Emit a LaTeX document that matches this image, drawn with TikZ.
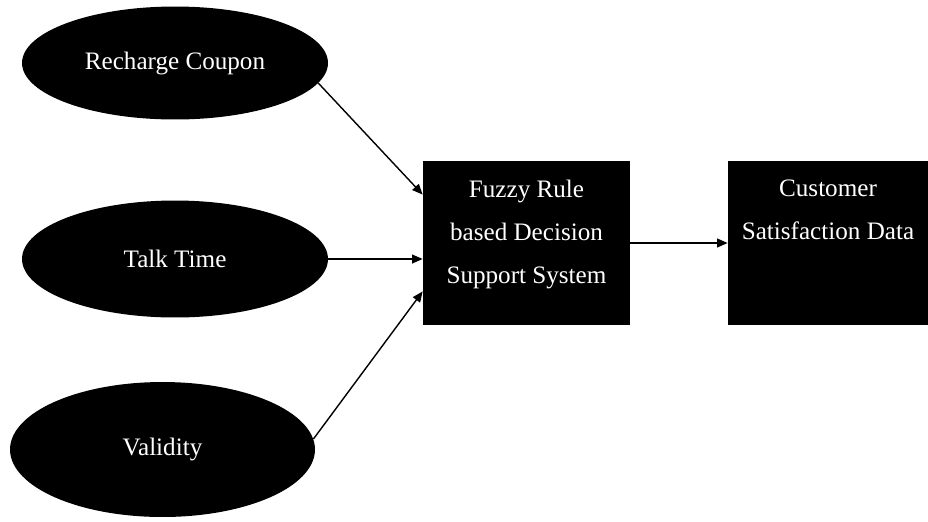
\documentclass[tikz,border=0pt]{standalone}
\usepackage{fontspec}
\setmainfont{Liberation Serif}
\usetikzlibrary{shapes.geometric,arrows.meta}

\begin{document}
\begin{tikzpicture}[x=0.02cm, y=-0.02cm,
    inputnode/.style={ellipse, fill=black, text=white, inner sep=0pt, minimum width=6.12cm, font=\fontsize{14.3}{24.5}\selectfont},
    block/.style={rectangle, fill=black, text=white, inner sep=0pt, minimum height=3.28cm, font=\fontsize{14.3}{24.5}\selectfont},
    link/.style={line width=0.8pt, -{Triangle[length=6pt,width=5pt]}}]
  \useasboundingbox (0,0) rectangle (928,521);
  \node[inputnode, minimum height=2.26cm] (coupon) at (175,63) {Recharge Coupon};
  \node[inputnode, minimum height=2.34cm] (talk) at (175,259) {Talk Time};
  \node[inputnode, minimum width=6.1cm, minimum height=2.7cm] (validity) at (162.5,449.5) {Validity};
  \node[block, minimum width=4.14cm] (fuzzy) at (526.5,243)
    {\parbox[c][2.52cm][t]{4.14cm}{\centering Fuzzy Rule\\ based Decision\\ Support System}};
  \node[block, minimum width=4cm] (data) at (828,243)
    {\parbox[c][2.52cm][t]{4cm}{\centering Customer\\ Satisfaction Data}};
  \draw[link] (coupon.-8) -- (fuzzy.155);
  \draw[link] (talk.east) -- (talk.east -| fuzzy.west);
  \draw[link] (validity.4) -- (fuzzy.205);
  \draw[link] (fuzzy.east) -- (data.west);
\end{tikzpicture}
\end{document}
